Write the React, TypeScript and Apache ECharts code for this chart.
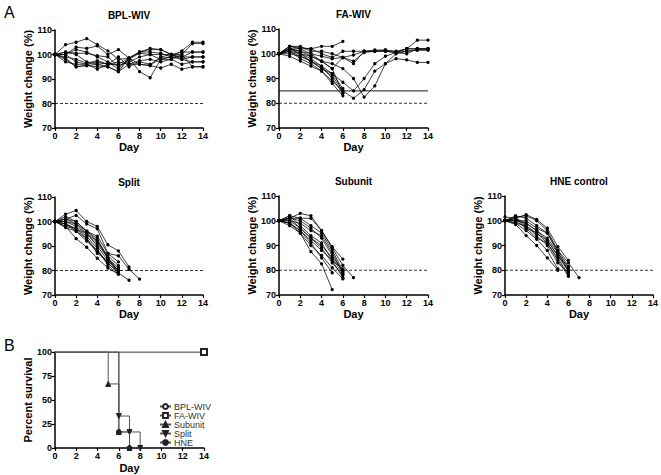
import React, { useEffect, useRef } from "react";
import * as echarts from "echarts";

// Day axis
const DAY_TICKS = [0, 2, 4, 6, 8, 10, 12, 14];

// Weight change (%) per mouse, index = day
const BPL_WIV: number[][] = [
  [100, 104, 105, 106.5, 104, 101.5, 98, 98.5, 101, 102, 102, 100, 100, 104.5, 104.5],
  [100, 100, 103, 102.5, 103.5, 100, 102, 98.5, 96, 95.5, 98.5, 99, 101.5, 105, 105],
  [100, 98, 95, 95.5, 95, 95, 93, 98.5, 93, 90.5, 98, 99, 99, 101, 101],
  [100, 97, 96, 96, 97, 96, 96, 98.5, 101, 102.5, 102, 100, 101, 101, 101],
  [100, 100, 102, 101, 99, 97, 94, 98.5, 101, 101, 100.5, 99, 98, 99, 99],
  [100, 101, 100, 97, 96, 95, 93, 96, 96, 95.5, 94.5, 96, 94, 95, 95],
  [100, 99, 98, 96.5, 97.5, 96, 97, 96, 97.5, 98, 97, 98, 96, 97, 97],
  [100, 100, 97, 96, 94, 96, 99, 95, 97, 96, 99, 100, 98, 97, 97],
  [100, 98.5, 95, 95.5, 96, 96.5, 95.5, 97, 99, 100, 98, 98, 100, 95, 95],
  [100, 101, 100.5, 100.5, 99.5, 99, 95, 98, 100.5, 100, 100, 100, 99, 99, 99],
];

const FA_WIV: number[][] = [
  [100, 102, 101, 100, 99, 98, 98.5, 99.5, 101, 101.5, 101.5, 100.5, 102, 105.5, 105.5],
  [100, 103, 102.5, 102, 100, 98.5, 101, 101, 101, 101, 101, 100.5, 101, 101.5, 101.5],
  [100, 101, 100, 99, 97, 94, 98.5, 96, 101, 101, 101, 100.5, 100, 102, 102],
  [100, 102, 100, 98, 95, 92, 88.5, 85, 90, 96, 99, 100.5, 102, 102, 102],
  [100, 101, 99, 97, 94, 91, 85, 82, 85.5, 93, 96, 100, 101, 101.5, 101.5],
  [100, 102, 101, 99, 97, 96, 94, 90, 82.5, 87, 96, 98, 97.5, 96.5, 96.5],
  [100, 103, 103, 101, 101, 100, 98.5, 97, 100.5, 101, 101.5, 101, 102, 102, 102],
  [100, 102, 102, 102, 103, 103, 105],
  [100, 103, 102, 100, 97, 94, 84],
  [100, 101, 98, 96, 93, 89, 85],
  [100, 99, 97, 95, 93, 88, 83],
  [100, 100, 99, 97, 95, 90, 84],
  [100, 102, 100, 97, 94, 92, 86],
];

const SPLIT: number[][] = [
  [100, 103, 104.5, 100, 98, 90.5, 88, 81.5],
  [100, 101, 102.5, 99, 97, 87, 86, 80.5, 76.5],
  [100, 101, 100, 96, 93, 85, 79, 76],
  [100, 99, 97, 95, 92, 85, 80],
  [100, 98, 93, 89.5, 85, 81, 78.5],
  [100, 97.5, 96, 92, 88, 83, 79],
  [100, 100, 98, 95, 90, 84, 80],
  [100, 99, 97, 94, 89, 82, 78.5],
  [100, 101, 99, 96, 92, 86, 82],
  [100, 102, 100, 96, 94, 87, 83.5],
  [100, 98, 97, 93, 88, 83, 79.5],
  [100, 100, 99, 95, 91, 85, 81],
  [100, 99, 96, 93, 87, 84, 80],
];

const SUBUNIT: number[][] = [
  [100, 101, 103, 102, 96, 89.5, 84.5],
  [100, 102, 101, 101, 96, 89, 82, 77],
  [100, 101, 101, 98, 95, 88, 80],
  [100, 100, 99, 96, 94, 87, 79],
  [100, 101, 97, 93, 90, 85, 78.5],
  [100, 99, 96, 92, 88, 84, 77],
  [100, 98, 95, 87.5, 82.6, 72.2],
  [100, 99, 96, 91, 85, 79],
  [100, 102, 98, 94, 91, 84, 80.5],
  [100, 100, 97, 93, 89, 83, 78],
  [100, 99, 95, 90, 86, 81, 76.5],
  [100, 101, 100, 97, 93, 86, 79.5],
];

const HNE_CONTROL: number[][] = [
  [101.5, 101, 102.5, 100.5, 97, 89.5, 84],
  [100, 101.5, 102, 100, 96, 88, 83, 77],
  [100, 100, 100, 97, 95, 87, 81],
  [100, 101, 98, 95, 92, 86, 79.5],
  [100, 98.5, 94, 90, 85, 80],
  [100, 100, 97, 93, 91, 85, 78],
  [100, 101, 99, 96, 93, 87, 80],
  [100, 99, 96, 92.5, 88, 80.5],
  [100, 102, 101, 98, 95, 88, 81.5],
  [100, 101, 97, 95, 91, 84, 77.5],
  [100, 99, 98, 94, 90, 83, 79],
  [100, 100, 99, 96, 92, 86, 80],
];

// Survival (%) – [day, percent]
const SURV_NAMES = ["BPL-WIV", "FA-WIV", "Subunit", "Split", "HNE"];
const SURV_BPL = [[0, 100], [14, 100]];
const SURV_FA = [[0, 100], [14, 100]];
const SURV_SUBUNIT = [[0, 100], [5, 66.7], [6, 16.7], [7, 0]];
const SURV_SPLIT = [[0, 100], [6, 33.3], [7, 16.7], [8, 0]];
const SURV_HNE = [[0, 100], [6, 16.7], [7, 0]];

const FONT = "Liberation Sans, Arial, sans-serif";

const PANELS = [
  { title: "BPL-WIV", mice: BPL_WIV, grid: { left: 55, top: 30, width: 148, height: 98 }, solid85: false },
  { title: "FA-WIV", mice: FA_WIV, grid: { left: 279, top: 29, width: 149, height: 99 }, solid85: true },
  { title: "Split", mice: SPLIT, grid: { left: 55, top: 197, width: 148, height: 98 }, solid85: false },
  { title: "Subunit", mice: SUBUNIT, grid: { left: 279, top: 196, width: 149, height: 99 }, solid85: false },
  { title: "HNE control", mice: HNE_CONTROL, grid: { left: 505, top: 196, width: 148, height: 99 }, solid85: false },
];
const SURV_GRID = { left: 55, top: 352, width: 149, height: 96 };

function axisCommon() {
  return {
    type: "value" as const,
    nameLocation: "middle" as const,
    nameTextStyle: { fontWeight: "bold", fontSize: 11, color: "#000", fontFamily: FONT },
    axisLine: { show: true, onZero: false, lineStyle: { color: "#000", width: 1.5 } },
    axisTick: { show: true, length: 3, lineStyle: { color: "#000", width: 1.2 } },
    axisLabel: { fontSize: 9, fontWeight: "bold", color: "#000", margin: 3, fontFamily: FONT },
    splitLine: { show: false },
  };
}

export default function App() {
  const ref = useRef<HTMLDivElement>(null);
  useEffect(() => {
    if (!ref.current) return;
    const chart = echarts.init(ref.current, null, { renderer: "svg" });
    const grids: any[] = [];
    const xAxes: any[] = [];
    const yAxes: any[] = [];
    const series: any[] = [];
    const graphics: any[] = [];

    PANELS.forEach((p, i) => {
      grids.push({ ...p.grid, containLabel: false });
      xAxes.push({
        ...axisCommon(), gridIndex: i, min: DAY_TICKS[0], max: DAY_TICKS[DAY_TICKS.length - 1], interval: 2,
        name: "Day", nameGap: 13,
      });
      yAxes.push({
        ...axisCommon(), gridIndex: i, min: 70, max: 110, interval: 10,
        name: "Weight change (%)", nameGap: 22,
      });
      p.mice.forEach((m) => {
        series.push({
          type: "line", xAxisIndex: i, yAxisIndex: i,
          data: m.map((v, d) => [d, v]),
          symbol: "circle", symbolSize: 3.3, color: "#000",
          itemStyle: { color: "#000" },
          lineStyle: { color: "#000", width: 0.75 },
          silent: true,
        });
      });
      series.push({
        type: "line", xAxisIndex: i, yAxisIndex: i, data: [[0, 80], [14, 80]], symbol: "none", color: "#000",
        lineStyle: { color: "#000", width: 0.8, type: [3, 2] }, silent: true,
      });
      if (p.solid85) {
        series.push({
          type: "line", xAxisIndex: i, yAxisIndex: i, data: [[0, 85], [14, 85]], symbol: "none", color: "#000",
          lineStyle: { color: "#000", width: 0.9 }, silent: true,
        });
      }
      graphics.push({
        type: "text", x: p.grid.left + p.grid.width / 2, y: p.grid.top - 15,
        style: {
          text: p.title, font: `bold 10px ${FONT}`, fill: "#000",
          textAlign: "center", textVerticalAlign: "middle", align: "center", verticalAlign: "middle",
        },
      });
    });

    const si = PANELS.length;
    grids.push({ ...SURV_GRID });
    xAxes.push({ ...axisCommon(), gridIndex: si, min: 0, max: 14, interval: 2, name: "Day", nameGap: 14 });
    yAxes.push({ ...axisCommon(), gridIndex: si, min: 0, max: 100, interval: 25, name: "Percent survival", nameGap: 22 });

    const survData = [SURV_BPL, SURV_FA, SURV_SUBUNIT, SURV_SPLIT, SURV_HNE];
    const survSymbols: any[] = [
      { symbol: "emptyCircle", size: 5, rotate: 0 },
      { symbol: "emptyRect", size: 6, rotate: 0 },
      { symbol: "triangle", size: 5, rotate: 0 },
      { symbol: "triangle", size: 5, rotate: 180 },
      { symbol: "circle", size: 5, rotate: 0 },
    ];
    survData.forEach((d, k) => {
      series.push({
        type: "line", name: SURV_NAMES[k], xAxisIndex: si, yAxisIndex: si, step: "end", color: "#222",
        data: d.map((pt, j) => (j === 0 ? { value: pt, symbol: "none" } : { value: pt })),
        symbol: survSymbols[k].symbol, symbolSize: survSymbols[k].size, symbolRotate: survSymbols[k].rotate,
        showAllSymbol: true,
        itemStyle: { color: "#222", borderColor: "#222", borderWidth: 1 },
        lineStyle: { color: "#555", width: 1 },
        silent: true,
      });
    });

    graphics.push({ type: "text", x: 4, y: 4, style: { text: "A", font: `16px ${FONT}`, fill: "#000" } });
    graphics.push({ type: "text", x: 4, y: 337, style: { text: "B", font: `16px ${FONT}`, fill: "#000" } });

    chart.setOption({
      animation: false,
      color: ["#222"],
      grid: grids,
      xAxis: xAxes,
      yAxis: yAxes,
      series,
      graphic: graphics,
      legend: {
        data: SURV_NAMES, orient: "vertical", left: 159, top: 402, itemGap: 0, padding: 0,
        itemWidth: 11, itemHeight: 6,
        textStyle: { fontSize: 9, color: "#333", fontFamily: FONT, lineHeight: 9, padding: [0, 0, 0, -2] },
        selectedMode: false,
      },
    });
    return () => chart.dispose();
  }, []);
  return <div ref={ref} style={{ position: "absolute", left: 0, top: 0, width: 661, height: 475 }} />;
}
